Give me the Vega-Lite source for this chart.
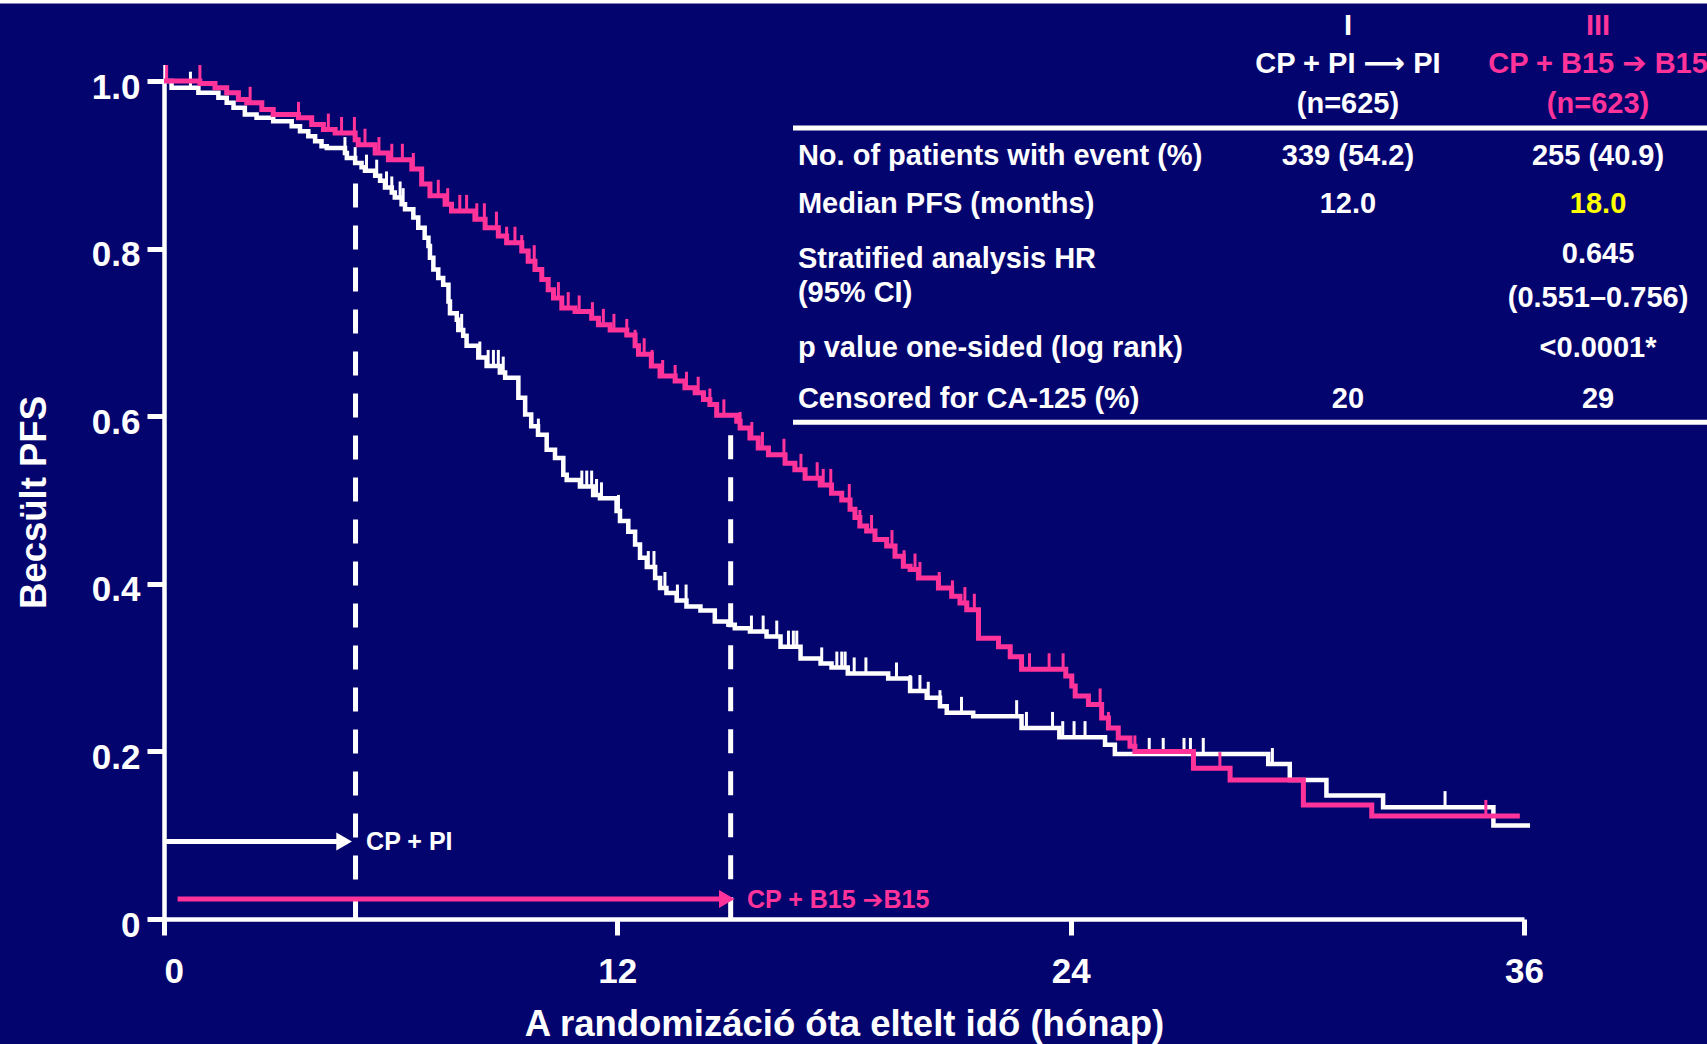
{
  "$schema": "https://vega.github.io/schema/vega-lite/v6.json",
  "width": 1360,
  "height": 838,
  "autosize": {"type": "none"},
  "padding": {"left": 164, "top": 81, "right": 183, "bottom": 125},
  "background": "#04046F",
  "config": {
    "view": {"stroke": null},
    "text": {"font": "Liberation Sans, DejaVu Sans", "fontWeight": "bold"},
    "axis": {
      "grid": false,
      "domainColor": "#FFFFFF", "domainWidth": 4.5,
      "tickColor": "#FFFFFF", "tickWidth": 5,
      "labelColor": "#FFFFFF", "labelFont": "Liberation Sans", "labelFontSize": 35, "labelFontWeight": "bold",
      "labelOverlap": false, "labelFlush": false,
      "titleColor": "#FFFFFF", "titleFont": "Liberation Sans", "titleFontSize": 36.5, "titleFontWeight": "bold"
    }
  },
  "datasets": {
    "km": [
      {"arm":"I","t":0,"s":1.0},{"arm":"I","t":0.2,"s":0.992},{"arm":"I","t":0.91,"s":0.986},{"arm":"I","t":1.44,"s":0.98},{"arm":"I","t":1.66,"s":0.974},{"arm":"I","t":1.84,"s":0.968},{"arm":"I","t":2.14,"s":0.96},{"arm":"I","t":2.45,"s":0.956},{"arm":"I","t":2.89,"s":0.952},{"arm":"I","t":3.38,"s":0.946},{"arm":"I","t":3.6,"s":0.94},{"arm":"I","t":3.82,"s":0.934},{"arm":"I","t":4.0,"s":0.928},{"arm":"I","t":4.17,"s":0.922},{"arm":"I","t":4.31,"s":0.92},{"arm":"I","t":4.79,"s":0.914},{"arm":"I","t":4.84,"s":0.908},{"arm":"I","t":5.06,"s":0.902},{"arm":"I","t":5.23,"s":0.897},{"arm":"I","t":5.32,"s":0.893},{"arm":"I","t":5.59,"s":0.887},{"arm":"I","t":5.72,"s":0.881},{"arm":"I","t":5.85,"s":0.873},{"arm":"I","t":6.03,"s":0.867},{"arm":"I","t":6.11,"s":0.861},{"arm":"I","t":6.29,"s":0.853},{"arm":"I","t":6.38,"s":0.847},{"arm":"I","t":6.6,"s":0.837},{"arm":"I","t":6.73,"s":0.825},{"arm":"I","t":6.9,"s":0.813},{"arm":"I","t":7.0,"s":0.803},{"arm":"I","t":7.04,"s":0.789},{"arm":"I","t":7.13,"s":0.775},{"arm":"I","t":7.26,"s":0.765},{"arm":"I","t":7.39,"s":0.757},{"arm":"I","t":7.53,"s":0.737},{"arm":"I","t":7.57,"s":0.723},{"arm":"I","t":7.75,"s":0.715},{"arm":"I","t":7.79,"s":0.703},{"arm":"I","t":7.92,"s":0.696},{"arm":"I","t":8.01,"s":0.684},{"arm":"I","t":8.32,"s":0.67},{"arm":"I","t":8.54,"s":0.66},{"arm":"I","t":8.89,"s":0.652},{"arm":"I","t":9.03,"s":0.646},{"arm":"I","t":9.38,"s":0.622},{"arm":"I","t":9.56,"s":0.602},{"arm":"I","t":9.72,"s":0.588},{"arm":"I","t":9.9,"s":0.578},{"arm":"I","t":10.13,"s":0.56},{"arm":"I","t":10.35,"s":0.55},{"arm":"I","t":10.57,"s":0.53},{"arm":"I","t":10.66,"s":0.524},{"arm":"I","t":11.01,"s":0.516},{"arm":"I","t":11.36,"s":0.506},{"arm":"I","t":11.54,"s":0.502},{"arm":"I","t":11.98,"s":0.487},{"arm":"I","t":12.07,"s":0.475},{"arm":"I","t":12.29,"s":0.462},{"arm":"I","t":12.47,"s":0.447},{"arm":"I","t":12.6,"s":0.431},{"arm":"I","t":12.78,"s":0.42},{"arm":"I","t":13.0,"s":0.407},{"arm":"I","t":13.13,"s":0.395},{"arm":"I","t":13.3,"s":0.389},{"arm":"I","t":13.57,"s":0.38},{"arm":"I","t":13.83,"s":0.373},{"arm":"I","t":14.2,"s":0.368},{"arm":"I","t":14.58,"s":0.355},{"arm":"I","t":14.94,"s":0.351},{"arm":"I","t":15.11,"s":0.347},{"arm":"I","t":15.51,"s":0.343},{"arm":"I","t":15.95,"s":0.337},{"arm":"I","t":16.32,"s":0.325},{"arm":"I","t":16.85,"s":0.311},{"arm":"I","t":17.38,"s":0.305},{"arm":"I","t":17.67,"s":0.3},{"arm":"I","t":18.1,"s":0.293},{"arm":"I","t":19.17,"s":0.287},{"arm":"I","t":19.75,"s":0.272},{"arm":"I","t":20.19,"s":0.264},{"arm":"I","t":20.54,"s":0.254},{"arm":"I","t":20.72,"s":0.246},{"arm":"I","t":21.42,"s":0.242},{"arm":"I","t":22.7,"s":0.228},{"arm":"I","t":23.7,"s":0.217},{"arm":"I","t":24.91,"s":0.208},{"arm":"I","t":25.17,"s":0.197},{"arm":"I","t":29.23,"s":0.185},{"arm":"I","t":29.8,"s":0.166},{"arm":"I","t":30.77,"s":0.1475},{"arm":"I","t":32.27,"s":0.1335},{"arm":"I","t":35.19,"s":0.1116},{"arm":"I","t":36.16,"s":0.1116},
      {"arm":"III","t":0,"s":1.0},{"arm":"III","t":0.95,"s":0.997},{"arm":"III","t":1.35,"s":0.992},{"arm":"III","t":1.66,"s":0.986},{"arm":"III","t":1.97,"s":0.978},{"arm":"III","t":2.19,"s":0.974},{"arm":"III","t":2.59,"s":0.966},{"arm":"III","t":2.89,"s":0.96},{"arm":"III","t":3.56,"s":0.956},{"arm":"III","t":3.91,"s":0.948},{"arm":"III","t":4.22,"s":0.942},{"arm":"III","t":4.53,"s":0.938},{"arm":"III","t":5.06,"s":0.93},{"arm":"III","t":5.14,"s":0.924},{"arm":"III","t":5.59,"s":0.914},{"arm":"III","t":5.94,"s":0.906},{"arm":"III","t":6.56,"s":0.895},{"arm":"III","t":6.82,"s":0.877},{"arm":"III","t":7.04,"s":0.863},{"arm":"III","t":7.44,"s":0.853},{"arm":"III","t":7.61,"s":0.845},{"arm":"III","t":8.23,"s":0.835},{"arm":"III","t":8.5,"s":0.825},{"arm":"III","t":8.85,"s":0.815},{"arm":"III","t":9.07,"s":0.807},{"arm":"III","t":9.47,"s":0.797},{"arm":"III","t":9.64,"s":0.785},{"arm":"III","t":9.82,"s":0.775},{"arm":"III","t":10.0,"s":0.763},{"arm":"III","t":10.17,"s":0.751},{"arm":"III","t":10.31,"s":0.741},{"arm":"III","t":10.53,"s":0.729},{"arm":"III","t":10.88,"s":0.725},{"arm":"III","t":11.32,"s":0.717},{"arm":"III","t":11.5,"s":0.709},{"arm":"III","t":11.81,"s":0.703},{"arm":"III","t":12.25,"s":0.697},{"arm":"III","t":12.47,"s":0.684},{"arm":"III","t":12.56,"s":0.674},{"arm":"III","t":12.9,"s":0.66},{"arm":"III","t":13.13,"s":0.648},{"arm":"III","t":13.53,"s":0.642},{"arm":"III","t":13.79,"s":0.634},{"arm":"III","t":14.06,"s":0.628},{"arm":"III","t":14.28,"s":0.62},{"arm":"III","t":14.45,"s":0.614},{"arm":"III","t":14.63,"s":0.601},{"arm":"III","t":15.16,"s":0.594},{"arm":"III","t":15.25,"s":0.586},{"arm":"III","t":15.51,"s":0.574},{"arm":"III","t":15.73,"s":0.562},{"arm":"III","t":16.0,"s":0.554},{"arm":"III","t":16.44,"s":0.544},{"arm":"III","t":16.7,"s":0.536},{"arm":"III","t":16.97,"s":0.526},{"arm":"III","t":17.37,"s":0.518},{"arm":"III","t":17.67,"s":0.508},{"arm":"III","t":17.94,"s":0.5},{"arm":"III","t":18.16,"s":0.489},{"arm":"III","t":18.29,"s":0.479},{"arm":"III","t":18.42,"s":0.469},{"arm":"III","t":18.6,"s":0.463},{"arm":"III","t":18.82,"s":0.453},{"arm":"III","t":19.13,"s":0.445},{"arm":"III","t":19.35,"s":0.433},{"arm":"III","t":19.57,"s":0.421},{"arm":"III","t":19.75,"s":0.417},{"arm":"III","t":19.97,"s":0.407},{"arm":"III","t":20.5,"s":0.395},{"arm":"III","t":20.85,"s":0.385},{"arm":"III","t":21.07,"s":0.377},{"arm":"III","t":21.25,"s":0.369},{"arm":"III","t":21.56,"s":0.335},{"arm":"III","t":22.09,"s":0.325},{"arm":"III","t":22.4,"s":0.313},{"arm":"III","t":22.7,"s":0.298},{"arm":"III","t":23.87,"s":0.29},{"arm":"III","t":24.03,"s":0.278},{"arm":"III","t":24.12,"s":0.266},{"arm":"III","t":24.47,"s":0.256},{"arm":"III","t":24.82,"s":0.24},{"arm":"III","t":25.0,"s":0.228},{"arm":"III","t":25.26,"s":0.216},{"arm":"III","t":25.57,"s":0.206},{"arm":"III","t":25.7,"s":0.2},{"arm":"III","t":27.25,"s":0.18},{"arm":"III","t":28.22,"s":0.166},{"arm":"III","t":30.16,"s":0.136},{"arm":"III","t":31.97,"s":0.123},{"arm":"III","t":35.89,"s":0.123}
    ],
    "censor": [
      {"arm":"I","t":0.02,"s":1.0},{"arm":"I","t":0.7,"s":0.992},{"arm":"I","t":4.79,"s":0.914},{"arm":"I","t":5.06,"s":0.902},{"arm":"I","t":5.36,"s":0.893},{"arm":"I","t":5.63,"s":0.887},{"arm":"I","t":5.89,"s":0.873},{"arm":"I","t":6.03,"s":0.867},{"arm":"I","t":6.25,"s":0.861},{"arm":"I","t":6.33,"s":0.853},{"arm":"I","t":7.88,"s":0.703},{"arm":"I","t":8.36,"s":0.67},{"arm":"I","t":8.58,"s":0.66},{"arm":"I","t":8.72,"s":0.66},{"arm":"I","t":8.85,"s":0.66},{"arm":"I","t":8.98,"s":0.652},{"arm":"I","t":9.91,"s":0.578},{"arm":"I","t":11.06,"s":0.516},{"arm":"I","t":11.19,"s":0.516},{"arm":"I","t":11.32,"s":0.516},{"arm":"I","t":11.45,"s":0.506},{"arm":"I","t":11.58,"s":0.502},{"arm":"I","t":12.03,"s":0.487},{"arm":"I","t":12.82,"s":0.42},{"arm":"I","t":12.97,"s":0.42},{"arm":"I","t":13.26,"s":0.395},{"arm":"I","t":13.59,"s":0.38},{"arm":"I","t":13.82,"s":0.38},{"arm":"I","t":15.0,"s":0.351},{"arm":"I","t":15.55,"s":0.343},{"arm":"I","t":15.86,"s":0.343},{"arm":"I","t":16.22,"s":0.337},{"arm":"I","t":16.53,"s":0.325},{"arm":"I","t":16.66,"s":0.325},{"arm":"I","t":16.75,"s":0.325},{"arm":"I","t":17.41,"s":0.305},{"arm":"I","t":17.81,"s":0.3},{"arm":"I","t":17.94,"s":0.3},{"arm":"I","t":18.03,"s":0.3},{"arm":"I","t":18.27,"s":0.293},{"arm":"I","t":18.58,"s":0.293},{"arm":"I","t":19.39,"s":0.287},{"arm":"I","t":19.75,"s":0.272},{"arm":"I","t":20.01,"s":0.272},{"arm":"I","t":20.23,"s":0.264},{"arm":"I","t":20.54,"s":0.254},{"arm":"I","t":21.11,"s":0.246},{"arm":"I","t":22.57,"s":0.242},{"arm":"I","t":22.83,"s":0.228},{"arm":"I","t":23.52,"s":0.228},{"arm":"I","t":23.79,"s":0.217},{"arm":"I","t":24.09,"s":0.217},{"arm":"I","t":24.38,"s":0.217},{"arm":"I","t":26.08,"s":0.197},{"arm":"I","t":26.45,"s":0.197},{"arm":"I","t":27.0,"s":0.197},{"arm":"I","t":27.17,"s":0.197},{"arm":"I","t":27.51,"s":0.197},{"arm":"I","t":29.34,"s":0.185},{"arm":"I","t":33.91,"s":0.1335},
      {"arm":"III","t":0.07,"s":1.0},{"arm":"III","t":0.95,"s":1.0},{"arm":"III","t":2.28,"s":0.974},{"arm":"III","t":3.56,"s":0.956},{"arm":"III","t":4.35,"s":0.942},{"arm":"III","t":4.7,"s":0.938},{"arm":"III","t":5.04,"s":0.938},{"arm":"III","t":5.32,"s":0.924},{"arm":"III","t":5.69,"s":0.914},{"arm":"III","t":6.03,"s":0.906},{"arm":"III","t":6.31,"s":0.906},{"arm":"III","t":6.6,"s":0.895},{"arm":"III","t":7.26,"s":0.863},{"arm":"III","t":7.51,"s":0.853},{"arm":"III","t":7.83,"s":0.845},{"arm":"III","t":8.01,"s":0.845},{"arm":"III","t":8.28,"s":0.835},{"arm":"III","t":8.48,"s":0.835},{"arm":"III","t":8.8,"s":0.825},{"arm":"III","t":9.07,"s":0.807},{"arm":"III","t":9.29,"s":0.807},{"arm":"III","t":9.47,"s":0.797},{"arm":"III","t":9.8,"s":0.785},{"arm":"III","t":10.44,"s":0.741},{"arm":"III","t":10.7,"s":0.729},{"arm":"III","t":10.99,"s":0.725},{"arm":"III","t":11.34,"s":0.717},{"arm":"III","t":11.63,"s":0.709},{"arm":"III","t":11.91,"s":0.703},{"arm":"III","t":12.25,"s":0.697},{"arm":"III","t":12.47,"s":0.684},{"arm":"III","t":12.71,"s":0.674},{"arm":"III","t":12.92,"s":0.66},{"arm":"III","t":13.2,"s":0.648},{"arm":"III","t":13.53,"s":0.642},{"arm":"III","t":13.83,"s":0.634},{"arm":"III","t":14.14,"s":0.628},{"arm":"III","t":14.45,"s":0.614},{"arm":"III","t":14.82,"s":0.601},{"arm":"III","t":15.25,"s":0.586},{"arm":"III","t":15.56,"s":0.574},{"arm":"III","t":15.84,"s":0.562},{"arm":"III","t":16.41,"s":0.554},{"arm":"III","t":16.86,"s":0.536},{"arm":"III","t":17.29,"s":0.526},{"arm":"III","t":17.45,"s":0.518},{"arm":"III","t":17.65,"s":0.518},{"arm":"III","t":18.14,"s":0.5},{"arm":"III","t":18.42,"s":0.469},{"arm":"III","t":18.73,"s":0.463},{"arm":"III","t":19.27,"s":0.445},{"arm":"III","t":19.59,"s":0.421},{"arm":"III","t":19.88,"s":0.417},{"arm":"III","t":20.01,"s":0.407},{"arm":"III","t":20.52,"s":0.395},{"arm":"III","t":20.87,"s":0.385},{"arm":"III","t":21.2,"s":0.377},{"arm":"III","t":21.45,"s":0.369},{"arm":"III","t":22.91,"s":0.298},{"arm":"III","t":23.43,"s":0.298},{"arm":"III","t":23.8,"s":0.298},{"arm":"III","t":24.78,"s":0.256},{"arm":"III","t":25.0,"s":0.228},{"arm":"III","t":25.7,"s":0.2},{"arm":"III","t":27.95,"s":0.18},{"arm":"III","t":34.99,"s":0.123}
    ],
    "frame": [{"t": -5, "t2": 41.5, "s": 1.0955}],
    "dashed": [{"arm": "I", "t": 5.07, "s": 0.8778}, {"arm": "III", "t": 15.0, "s": 0.5772}],
    "arrows": [{"arm": "I", "t": 0, "t2": 4.98, "s": 0.0924}, {"arm": "III", "t": 0.36, "t2": 15.11, "s": 0.0239}],
    "heads": [{"arm": "I", "t": 4.98, "s": 0.0924}, {"arm": "III", "t": 15.11, "s": 0.0239}],
    "arrowlabels": [{"arm": "I", "label": "CP + PI", "t": 5.35, "s": 0.0823}, {"arm": "III", "label": "CP + B15 ➔B15", "t": 15.43, "s": 0.0131}],
    "tablerules": [{"t": 16.65, "t2": 41.5, "s": 0.9439}, {"t": 16.65, "t2": 41.5, "s": 0.5927}],
    "notes": [
      {"group": "I", "text": "I", "t": 31.34, "s": 1.0543},
      {"group": "III", "text": "III", "t": 37.96, "s": 1.0543},
      {"group": "I", "text": "CP + PI ⟶ PI", "t": 31.34, "s": 1.0101},
      {"group": "III", "text": "CP + B15 ➔ B15", "t": 37.96, "s": 1.0101},
      {"group": "I", "text": "(n=625)", "t": 31.34, "s": 0.9613},
      {"group": "III", "text": "(n=623)", "t": 37.96, "s": 0.9613},
      {"group": "label", "text": "No. of patients with event (%)", "t": 16.78, "s": 0.8992},
      {"group": "value", "text": "339 (54.2)", "t": 31.34, "s": 0.8992},
      {"group": "value", "text": "255 (40.9)", "t": 37.96, "s": 0.8992},
      {"group": "label", "text": "Median PFS (months)", "t": 16.78, "s": 0.842},
      {"group": "value", "text": "12.0", "t": 31.34, "s": 0.842},
      {"group": "highlight", "text": "18.0", "t": 37.96, "s": 0.842},
      {"group": "label", "text": "Stratified analysis HR", "t": 16.78, "s": 0.7764},
      {"group": "label", "text": "(95% CI)", "t": 16.78, "s": 0.7358},
      {"group": "value", "text": "0.645", "t": 37.96, "s": 0.7824},
      {"group": "value", "text": "(0.551–0.756)", "t": 37.96, "s": 0.7299},
      {"group": "label", "text": "p value one-sided (log rank)", "t": 16.78, "s": 0.6702},
      {"group": "value", "text": "<0.0001*", "t": 37.96, "s": 0.6702},
      {"group": "label", "text": "Censored for CA-125 (%)", "t": 16.78, "s": 0.6094},
      {"group": "value", "text": "20", "t": 31.34, "s": 0.6094},
      {"group": "value", "text": "29", "t": 37.96, "s": 0.6094}
    ]
  },
  "encoding": {
    "x": {
      "field": "t", "type": "quantitative", "scale": {"domain": [0, 36]},
      "axis": {
        "title": "A randomizáció óta eltelt idő (hónap)",
        "values": [0, 12, 24, 36], "format": "d",
        "tickSize": 16, "labelPadding": 19,
        "labelAlign": {"condition": {"test": "datum.value == 0", "value": "left"}, "value": "center"},
        "titleY": 116, "titleBaseline": "alphabetic"
      }
    },
    "y": {
      "field": "s", "type": "quantitative", "scale": {"domain": [0, 1]},
      "axis": {
        "title": "Becsült PFS",
        "values": [0, 0.2, 0.4, 0.6, 0.8, 1.0],
        "labelExpr": "datum.value == 0 ? '0' : format(datum.value, '.1f')",
        "tickSize": 17, "labelPadding": 7, "labelOffset": 6,
        "titleX": -119, "titleY": 421, "titleAngle": 270, "titleBaseline": "alphabetic", "titleAlign": "center"
      }
    }
  },
  "layer": [
    {
      "data": {"name": "frame"},
      "mark": {"type": "rule", "color": "#FFFFFF", "strokeWidth": 5},
      "encoding": {"x2": {"field": "t2"}}
    },
    {
      "data": {"name": "dashed"},
      "mark": {"type": "rule", "color": "#FFFFFF", "strokeWidth": 5, "strokeDash": [24, 18]},
      "encoding": {"y2": {"datum": 0}}
    },
    {
      "data": {"name": "arrows"},
      "mark": {"type": "rule", "strokeWidth": 5, "x2Offset": -12},
      "encoding": {
        "x2": {"field": "t2"},
        "color": {"field": "arm", "type": "nominal", "scale": {"domain": ["I", "III", "value", "highlight", "label"], "range": ["#FFFFFF", "#FF3399", "#FFFFFF", "#FFFF00", "#FFFFFF"]}, "legend": null}
      }
    },
    {
      "data": {"name": "heads"},
      "mark": {"type": "point", "shape": "triangle-right", "size": 324, "filled": true, "opacity": 1, "xOffset": -8},
      "encoding": {
        "color": {"field": "arm", "type": "nominal", "scale": {"domain": ["I", "III", "value", "highlight", "label"], "range": ["#FFFFFF", "#FF3399", "#FFFFFF", "#FFFF00", "#FFFFFF"]}, "legend": null}
      }
    },
    {
      "data": {"name": "arrowlabels"},
      "mark": {"type": "text", "align": "left", "baseline": "alphabetic", "fontSize": 25, "font": "Liberation Sans, DejaVu Sans", "fontWeight": "bold"},
      "encoding": {
        "text": {"field": "label"},
        "color": {"field": "arm", "type": "nominal", "scale": {"domain": ["I", "III", "value", "highlight", "label"], "range": ["#FFFFFF", "#FF3399", "#FFFFFF", "#FFFF00", "#FFFFFF"]}, "legend": null}
      }
    },
    {
      "data": {"name": "km"},
      "transform": [{"filter": "datum.arm === 'I'"}],
      "mark": {"type": "line", "interpolate": "step-after", "color": "#FFFFFF", "strokeWidth": 4.5}
    },
    {
      "data": {"name": "censor"},
      "transform": [{"filter": "datum.arm === 'I'"}],
      "mark": {"type": "rule", "color": "#FFFFFF", "strokeWidth": 3, "y2Offset": -16},
      "encoding": {"y2": {"field": "s"}}
    },
    {
      "data": {"name": "km"},
      "transform": [{"filter": "datum.arm === 'III'"}],
      "mark": {"type": "line", "interpolate": "step-after", "color": "#FF3399", "strokeWidth": 5}
    },
    {
      "data": {"name": "censor"},
      "transform": [{"filter": "datum.arm === 'III'"}],
      "mark": {"type": "rule", "color": "#FF3399", "strokeWidth": 3, "y2Offset": -16},
      "encoding": {"y2": {"field": "s"}}
    },
    {
      "data": {"name": "tablerules"},
      "mark": {"type": "rule", "color": "#FFFFFF", "strokeWidth": 5},
      "encoding": {"x2": {"field": "t2"}}
    },
    {
      "data": {"name": "notes"},
      "transform": [{"filter": "datum.group === 'label'"}],
      "mark": {"type": "text", "align": "left", "baseline": "alphabetic", "fontSize": 29, "font": "Liberation Sans, DejaVu Sans", "fontWeight": "bold"},
      "encoding": {
        "text": {"field": "text"},
        "color": {"field": "group", "type": "nominal", "scale": {"domain": ["I", "III", "value", "highlight", "label"], "range": ["#FFFFFF", "#FF3399", "#FFFFFF", "#FFFF00", "#FFFFFF"]}, "legend": null}
      }
    },
    {
      "data": {"name": "notes"},
      "transform": [{"filter": "datum.group !== 'label'"}],
      "mark": {"type": "text", "align": "center", "baseline": "alphabetic", "fontSize": 29, "font": "Liberation Sans, DejaVu Sans", "fontWeight": "bold"},
      "encoding": {
        "text": {"field": "text"},
        "color": {"field": "group", "type": "nominal", "scale": {"domain": ["I", "III", "value", "highlight", "label"], "range": ["#FFFFFF", "#FF3399", "#FFFFFF", "#FFFF00", "#FFFFFF"]}, "legend": null}
      }
    }
  ]
}
